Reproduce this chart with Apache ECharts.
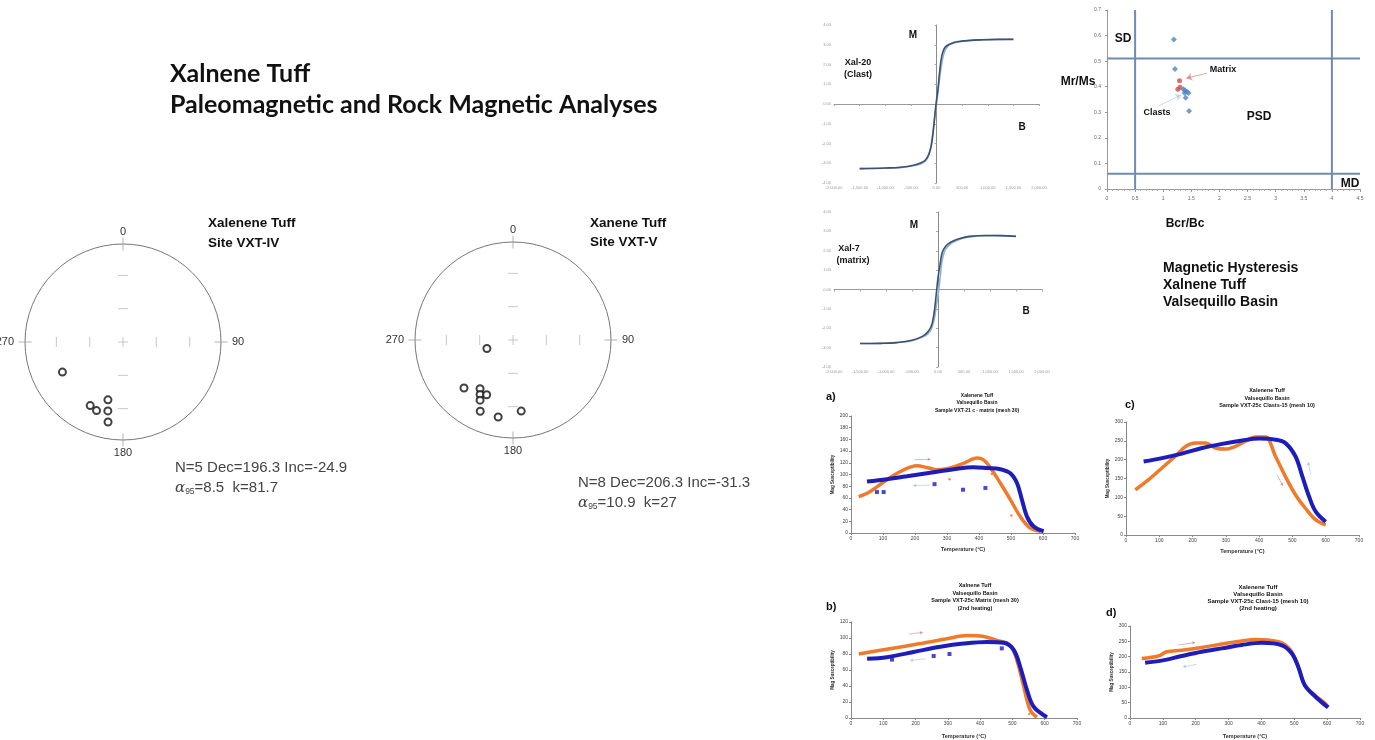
<!DOCTYPE html>
<html>
<head>
<meta charset="utf-8">
<script src="https://cdn.jsdelivr.net/npm/echarts@6/dist/echarts.min.js"></script>
<style>
html, body { margin: 0; padding: 0; background: #fff; }
#main { width: 1375px; height: 740px; }
</style>
</head>
<body>
<div id="main"></div>
<script>
// ---- stereonets: [projected radius (0..1), declination] ----
var vxt4Points = [[0.69, 243.6], [0.61, 194.6], [0.73, 207.3], [0.75, 201.1], [0.72, 192.4], [0.83, 190.6]];
var vxt5Points = [[0.28, 252], [0.70, 225.6], [0.60, 214.1], [0.65, 211.1], [0.62, 205.7], [0.70, 208.7], [0.80, 204.7], [0.80, 190.9], [0.73, 173.4]];
var netInnerH = [[0.34, 0], [0.68, 0], [0.34, 180], [0.68, 180], [0, 0]];
var netInnerV = [[0.34, 90], [0.68, 90], [0.34, 270], [0.68, 270], [0, 0]];
var netEdgeH = [[1, 90], [1, 270]];
var netEdgeV = [[1, 0], [1, 180]];

// ---- hysteresis loops [B, M] ----
var xal20Upper = [[1500, 3.27], [1200, 3.27], [900, 3.25], [600, 3.21], [400, 3.15], [300, 3.08], [200, 2.95], [150, 2.8], [100, 2.4], [60, 1.6], [30, 0.8], [0, 0.2], [-30, -0.5], [-60, -1.3], [-100, -2.1], [-150, -2.55], [-220, -2.85], [-300, -2.97], [-450, -3.1], [-700, -3.2], [-1000, -3.24], [-1500, -3.27]];
var xal20Lower = [[-1500, -3.27], [-1000, -3.25], [-700, -3.22], [-450, -3.13], [-300, -3.02], [-200, -2.85], [-140, -2.5], [-90, -1.8], [-50, -1.0], [-20, -0.4], [0, 0.0], [30, 0.6], [60, 1.3], [100, 2.0], [150, 2.6], [220, 2.92], [300, 3.05], [450, 3.15], [700, 3.22], [1000, 3.26], [1500, 3.28]];
var xal7Upper = [[1500, 2.74], [1200, 2.78], [900, 2.79], [600, 2.74], [400, 2.62], [250, 2.45], [150, 2.25], [80, 1.9], [40, 1.3], [0, 0.6], [-40, -0.4], [-80, -1.3], [-130, -1.9], [-200, -2.2], [-300, -2.42], [-500, -2.62], [-800, -2.74], [-1100, -2.78], [-1500, -2.79]];
var xal7Lower = [[-1500, -2.79], [-1100, -2.78], [-800, -2.74], [-500, -2.64], [-300, -2.45], [-200, -2.3], [-130, -2.05], [-70, -1.5], [-30, -0.8], [0, -0.3], [40, 0.6], [80, 1.5], [130, 2.0], [200, 2.25], [300, 2.45], [500, 2.66], [800, 2.76], [1100, 2.79], [1500, 2.75]];

// ---- Day plot [Bcr/Bc, Mr/Ms] ----
var clastPoints = [[1.19, 0.585], [1.21, 0.469], [1.36, 0.39], [1.39, 0.385], [1.42, 0.38], [1.45, 0.375], [1.40, 0.357], [1.46, 0.305], [1.38, 0.375]];
var matrixPoints = [[1.29, 0.423], [1.30, 0.398], [1.26, 0.39]];
var sdBcrBc = 0.5, mdBcrBc = 4;
var sdMrMs = 0.51, mdMrMs = 0.06;
var matrixArrow = [[1.78, 0.453], [1.41, 0.433]];
var clastArrow = [[0.92, 0.325], [1.32, 0.368]];

// ---- thermomagnetic curves [T, susceptibility] ----
var aHeat = [[24, 62], [60, 71], [112, 91], [154, 105], [206, 115], [237, 112], [269, 108], [310, 111], [352, 119], [394, 128], [414, 125], [435, 112], [467, 85], [498, 57], [529, 28], [560, 8.5], [592, 3]];
var aCool = [[50, 88], [112, 92], [175, 97], [248, 103], [321, 109], [383, 112.5], [425, 111], [467, 109], [498, 102], [519, 85], [534, 57], [550, 28], [571, 11], [602, 3]];
var aCoolDots = [[81, 70], [102, 70], [261, 83.5], [350, 74], [420, 77]];
var aHeatDots = [[308, 92], [440, 101], [501, 30]];
var cHeat = [[28, 120], [68, 147], [108, 178], [148, 209], [179, 235], [209, 244], [239, 244], [269, 231], [299, 228], [329, 235], [359, 249], [389, 260], [419, 260], [449, 209], [479, 155], [509, 107], [539, 71], [570, 40], [600, 27]];
var cCool = [[53, 195], [108, 204], [168, 216], [229, 231], [289, 242], [349, 251], [399, 256], [449, 253], [479, 244], [509, 209], [530, 155], [550, 102], [570, 62], [600, 35]];
var bHeat = [[24, 80], [111, 86], [215, 93], [297, 99], [359, 103], [411, 102], [452, 97], [493, 91], [514, 72], [535, 39], [555, 10], [576, 1]];
var bCool = [[50, 74], [111, 76], [194, 82.5], [277, 89], [349, 93], [421, 95], [473, 94], [504, 85], [524, 64], [545, 35], [566, 14], [607, 1]];
var bCoolDots = [[127, 73], [256, 77.5], [305, 80], [467, 87]];
var bHeatDots = [[552, 5]];
var dHeat = [[36, 194], [86, 202], [112, 216], [157, 221], [218, 230], [279, 241], [340, 251], [380, 256], [421, 254], [462, 245], [492, 216], [512, 167], [532, 107], [563, 74], [593, 49], [603, 36]];
var dCool = [[46, 180], [96, 187], [157, 202], [218, 216], [279, 227], [340, 238], [401, 245], [462, 237], [492, 211], [512, 167], [532, 107], [563, 71], [603, 34]];
var heatArrows = { a: [[200, 126], [248, 126]], b: [[180, 105], [222, 107]], c: [[454, 160], [471, 131]], d: [[147, 238], [198, 246]] };
var coolArrows = { a: [[248, 82], [195, 81]], b: [[233, 74], [184, 72]], c: [[555, 160], [547, 193]], d: [[203, 175], [162, 167]] };

var ORANGE = '#ee7a2a', BLUE = '#1d1dba', LINEBLUE = '#6f8cae';
var chart = echarts.init(document.getElementById('main'));

function txt(x, y, s, size, opts) {
  opts = opts || {};
  return {
    type: 'text', x: x, y: y, silent: true,
    style: {
      text: s, fontSize: size, fontWeight: opts.bold ? 'bold' : 'normal',
      fontFamily: opts.font || 'Liberation Sans', fill: opts.color || '#111',
      align: opts.align || 'left', verticalAlign: 'middle',
      lineHeight: opts.lh, rich: opts.rich
    }
  };
}

// grids: 0 Xal-20, 1 Xal-7, 2 Day plot, 3 a, 4 c, 5 b, 6 d
var grids = [
  { left: 834, top: 25, width: 205, height: 158 },
  { left: 834, top: 212, width: 208, height: 155 },
  { left: 1107, top: 10, width: 253, height: 179 },
  { left: 851, top: 416, width: 224, height: 117 },
  { left: 1126, top: 422, width: 233, height: 113 },
  { left: 851, top: 622, width: 226, height: 96 },
  { left: 1130, top: 626, width: 230, height: 92 }
];

var xAxes = [], yAxes = [];
[0, 1].forEach(function (g) {
  xAxes.push({
    gridIndex: g, type: 'value', min: -2000, max: 2000, interval: 500,
    axisLine: { onZero: true, lineStyle: { color: '#9a9a9a', width: 1 } },
    axisTick: { show: true, length: 2, lineStyle: { color: '#aaa' } },
    axisLabel: { fontSize: 4, color: '#999', margin: 3, formatter: function (v) {
      return (v < 0 ? '-' : '') + Math.abs(v).toLocaleString('en-US', { minimumFractionDigits: 2 });
    } },
    splitLine: { show: false }
  });
  yAxes.push({
    gridIndex: g, type: 'value', min: -4, max: 4, interval: 1,
    axisLine: { show: true, onZero: true, lineStyle: { color: '#8a8a8a', width: 1 } },
    axisTick: { show: true, length: 2, lineStyle: { color: '#aaa' } },
    axisLabel: { fontSize: 4, color: '#999', margin: 3, formatter: function (v) { return v.toFixed(2); } },
    splitLine: { show: false }
  });
});
xAxes.push({
  gridIndex: 2, type: 'value', min: 0, max: 4.5, interval: 0.5,
  axisLine: { onZero: false, lineStyle: { color: '#999' } },
  axisTick: { show: true, length: 3, lineStyle: { color: '#999' } },
  minorTick: { show: true, splitNumber: 5, length: 2, lineStyle: { color: '#aaa' } },
  axisLabel: { fontSize: 5, color: '#666', margin: 7 },
  splitLine: { show: false }
});
yAxes.push({
  gridIndex: 2, type: 'value', min: 0, max: 0.7, interval: 0.1,
  axisLine: { show: true, lineStyle: { color: '#999' } },
  axisTick: { show: true, length: 2, lineStyle: { color: '#999' } },
  axisLabel: { fontSize: 5, color: '#666', margin: 6 },
  splitLine: { show: false }
});
var thermoY = [{ max: 200, interval: 20, gap: 13 }, { max: 300, interval: 50, gap: 13 }, { max: 120, interval: 20, gap: 15 }, { max: 300, interval: 50, gap: 15 }];
thermoY.forEach(function (t, i) {
  var g = 3 + i;
  xAxes.push({
    gridIndex: g, type: 'value', min: 0, max: 700, interval: 100,
    name: 'Temperature (\u00b0C)', nameLocation: 'middle', nameGap: t.gap,
    nameTextStyle: { fontSize: 5.5, fontWeight: 'bold', color: '#333' },
    axisLine: { onZero: false, lineStyle: { color: '#888' } },
    axisTick: { show: true, length: 2, lineStyle: { color: '#888' } },
    axisLabel: { fontSize: 5, color: '#444', margin: 3 },
    splitLine: { show: false }
  });
  yAxes.push({
    gridIndex: g, type: 'value', min: 0, max: t.max, interval: t.interval,
    name: 'Mag Susceptibility', nameLocation: 'middle', nameGap: 14,
    nameTextStyle: { fontSize: 4.5, fontWeight: 'bold', color: '#333' },
    axisLine: { show: true, lineStyle: { color: '#888' } },
    axisTick: { show: true, length: 2, lineStyle: { color: '#888' } },
    axisLabel: { fontSize: 5, color: '#444', margin: 3 },
    splitLine: { show: false }
  });
});

var series = [];

// stereonets
[[vxt4Points, 0], [vxt5Points, 1]].forEach(function (p) {
  var pi = p[1];
  series.push({ type: 'scatter', coordinateSystem: 'polar', polarIndex: pi, silent: true, symbol: 'rect', symbolSize: [10, 1], itemStyle: { color: '#b3bcc6' }, data: netInnerH });
  series.push({ type: 'scatter', coordinateSystem: 'polar', polarIndex: pi, silent: true, symbol: 'rect', symbolSize: [1, 10], itemStyle: { color: '#b3bcc6' }, data: netInnerV });
  series.push({ type: 'scatter', coordinateSystem: 'polar', polarIndex: pi, silent: true, symbol: 'rect', symbolSize: [13, 1], itemStyle: { color: '#98a3ad' }, data: netEdgeH });
  series.push({ type: 'scatter', coordinateSystem: 'polar', polarIndex: pi, silent: true, symbol: 'rect', symbolSize: [1, 13], itemStyle: { color: '#98a3ad' }, data: netEdgeV });
  series.push({ type: 'scatter', coordinateSystem: 'polar', polarIndex: pi, silent: true, symbol: 'circle', symbolSize: 7, z: 5,
    itemStyle: { color: '#fff', borderColor: '#111', borderWidth: 2 }, data: p[0] });
});

// hysteresis
[[xal20Upper, xal20Lower, 0], [xal7Upper, xal7Lower, 1]].forEach(function (h) {
  series.push({ type: 'line', xAxisIndex: h[2], yAxisIndex: h[2], data: h[1], smooth: 0.4, showSymbol: false, silent: true,
    lineStyle: { color: '#8fb2d3', width: 1.6 } });
  series.push({ type: 'line', xAxisIndex: h[2], yAxisIndex: h[2], data: h[0], smooth: 0.4, showSymbol: false, silent: true,
    lineStyle: { color: '#3d5170', width: 1.6 } });
});

// Day plot boundaries
[[[sdBcrBc, 0], [sdBcrBc, 0.7]], [[mdBcrBc, 0], [mdBcrBc, 0.7]], [[0, sdMrMs], [4.5, sdMrMs]], [[0, mdMrMs], [4.5, mdMrMs]]].forEach(function (d) {
  series.push({ type: 'line', xAxisIndex: 2, yAxisIndex: 2, data: d, showSymbol: false, silent: true, lineStyle: { color: LINEBLUE, width: 2 } });
});
series.push({ type: 'scatter', xAxisIndex: 2, yAxisIndex: 2, data: clastPoints, symbol: 'diamond', symbolSize: 6, silent: true, itemStyle: { color: '#4f86c2' } });
series.push({ type: 'scatter', xAxisIndex: 2, yAxisIndex: 2, data: matrixPoints, symbol: 'circle', symbolSize: 5, silent: true, itemStyle: { color: '#c8504a' } });
series.push({ type: 'lines', coordinateSystem: 'cartesian2d', xAxisIndex: 2, yAxisIndex: 2, silent: true, symbol: ['none', 'arrow'], symbolSize: 6,
  lineStyle: { color: '#c0504d', width: 1 }, data: [{ coords: matrixArrow }] });
series.push({ type: 'lines', coordinateSystem: 'cartesian2d', xAxisIndex: 2, yAxisIndex: 2, silent: true, symbol: ['none', 'arrow'], symbolSize: 6,
  lineStyle: { color: '#9bb4cc', width: 1 }, data: [{ coords: clastArrow }] });

// thermomagnetic panels
var panels = [
  { g: 3, heat: aHeat, cool: aCool, hd: aHeatDots, cd: aCoolDots, k: 'a' },
  { g: 4, heat: cHeat, cool: cCool, hd: [], cd: [], k: 'c' },
  { g: 5, heat: bHeat, cool: bCool, hd: bHeatDots, cd: bCoolDots, k: 'b' },
  { g: 6, heat: dHeat, cool: dCool, hd: [], cd: [], k: 'd' }
];
panels.forEach(function (p) {
  series.push({ type: 'line', xAxisIndex: p.g, yAxisIndex: p.g, data: p.heat, smooth: 0.35, showSymbol: false, silent: true, lineStyle: { color: ORANGE, width: 3.5 } });
  series.push({ type: 'line', xAxisIndex: p.g, yAxisIndex: p.g, data: p.cool, smooth: 0.35, showSymbol: false, silent: true, lineStyle: { color: BLUE, width: 4 } });
  series.push({ type: 'scatter', xAxisIndex: p.g, yAxisIndex: p.g, data: p.cd, symbol: 'rect', symbolSize: 4, silent: true, itemStyle: { color: BLUE } });
  series.push({ type: 'scatter', xAxisIndex: p.g, yAxisIndex: p.g, data: p.hd, symbol: 'circle', symbolSize: 2.5, silent: true, itemStyle: { color: ORANGE } });
  series.push({ type: 'lines', coordinateSystem: 'cartesian2d', xAxisIndex: p.g, yAxisIndex: p.g, silent: true, symbol: ['none', 'arrow'], symbolSize: 3,
    lineStyle: { color: '#c0504d', width: 0.8 }, data: [{ coords: heatArrows[p.k] }] });
  series.push({ type: 'lines', coordinateSystem: 'cartesian2d', xAxisIndex: p.g, yAxisIndex: p.g, silent: true, symbol: ['none', 'arrow'], symbolSize: 3,
    lineStyle: { color: '#7f9fc0', width: 0.8 }, data: [{ coords: coolArrows[p.k] }] });
});

var alphaRich = {
  a: { fontFamily: 'DejaVu Serif', fontStyle: 'italic', fontSize: 15, fill: '#444' },
  s: { fontSize: 8.5, fill: '#444', verticalAlign: 'bottom', padding: [7, 0, 0, 0] },
  n: { fontSize: 15, fill: '#444', fontFamily: 'Liberation Sans' }
};

var graphics = [
  txt(170, 74, 'Xalnene Tuff', 25, { bold: true, font: 'Lato' }),
  txt(170, 105, 'Paleomagnetic and Rock Magnetic Analyses', 25, { bold: true, font: 'Lato' }),
  txt(208, 223, 'Xalenene Tuff', 13.5, { bold: true }),
  txt(208, 243, 'Site VXT-IV', 13.5, { bold: true }),
  txt(590, 223, 'Xanene Tuff', 13.5, { bold: true }),
  txt(590, 242, 'Site VXT-V', 13.5, { bold: true }),
  txt(175, 468, 'N=5 Dec=196.3 Inc=-24.9', 15, { color: '#444' }),
  txt(175, 488, '{a|\u03b1}{s|95}{n|=8.5  k=81.7}', 15, { rich: alphaRich, color: '#444' }),
  txt(578, 483, 'N=8 Dec=206.3 Inc=-31.3', 15, { color: '#444' }),
  txt(578, 503, '{a|\u03b1}{s|95}{n|=10.9  k=27}', 15, { rich: alphaRich, color: '#444' }),
  // hysteresis labels
  txt(913, 35, 'M', 10, { bold: true, align: 'center' }),
  txt(1022, 127, 'B', 10, { bold: true, align: 'center' }),
  txt(858, 63, 'Xal-20', 9, { bold: true, align: 'center' }),
  txt(858, 75, '(Clast)', 9, { bold: true, align: 'center' }),
  txt(914, 225, 'M', 10, { bold: true, align: 'center' }),
  txt(1026, 311, 'B', 10, { bold: true, align: 'center' }),
  txt(849, 249, 'Xal-7', 9, { bold: true, align: 'center' }),
  txt(853, 261, '(matrix)', 9, { bold: true, align: 'center' }),
  // Day plot labels
  txt(1123, 39, 'SD', 12, { bold: true, align: 'center' }),
  txt(1078, 82, 'Mr/Ms', 12, { bold: true, align: 'center' }),
  txt(1223, 70, 'Matrix', 9, { bold: true, align: 'center' }),
  txt(1157, 113, 'Clasts', 9, { bold: true, align: 'center' }),
  txt(1259, 117, 'PSD', 12, { bold: true, align: 'center' }),
  txt(1350, 184, 'MD', 12, { bold: true, align: 'center' }),
  txt(1185, 224, 'Bcr/Bc', 12, { bold: true, align: 'center' }),
  txt(1163, 268, 'Magnetic Hysteresis', 14, { bold: true }),
  txt(1163, 285, 'Xalnene Tuff', 14, { bold: true }),
  txt(1163, 302, 'Valsequillo Basin', 14, { bold: true }),
  // thermomagnetic titles
  txt(826, 397, 'a)', 11, { bold: true }),
  txt(977, 403, 'Xalenene Tuff\nValsequillo Basin\nSample VXT-21 c - matrix (mesh 30)', 5, { bold: true, align: 'center', lh: 7.5 }),
  txt(1125, 405, 'c)', 11, { bold: true }),
  txt(1267, 398, 'Xalenene Tuff\nValsequillo Basin\nSample VXT-25c Clasts-15 (mesh 10)', 5.5, { bold: true, align: 'center', lh: 7.3 }),
  txt(826, 607, 'b)', 11, { bold: true }),
  txt(975, 597, 'Xalnene Tuff\nValsequillo Basin\nSample VXT-25c Matrix (mesh 30)\n(2nd heating)', 5.5, { bold: true, align: 'center', lh: 7.5 }),
  txt(1106, 613, 'd)', 11, { bold: true }),
  txt(1258, 598, 'Xalenene Tuff\nValsequillo Basin\nSample VXT-25c Clast-15 (mesh 10)\n(2nd heating)', 6, { bold: true, align: 'center', lh: 7 })
];

chart.setOption({
  backgroundColor: '#fff',
  animation: false,
  polar: [{ center: [123, 342], radius: 98 }, { center: [513, 340], radius: 98 }],
  angleAxis: [0, 1].map(function (i) {
    return {
      polarIndex: i, type: 'value', min: 0, max: 360, interval: 90, startAngle: 90, clockwise: true,
      axisLine: { show: true, lineStyle: { color: '#777', width: 1 } },
      axisTick: { show: false }, splitLine: { show: false }, splitArea: { show: false },
      axisLabel: {
        margin: 7, fontSize: 11, color: '#333', fontFamily: 'Liberation Sans',
        formatter: function (v) { return v === 360 ? '' : (v === 90 || v === 270 ? '{h|' + v + '}' : String(v)); },
        rich: { h: { fontSize: 11, color: '#333', padding: [0, 4, 0, 4] } }
      }
    };
  }),
  radiusAxis: [0, 1].map(function (i) {
    return { polarIndex: i, type: 'value', min: 0, max: 1, axisLine: { show: false }, axisTick: { show: false },
      axisLabel: { show: false }, splitLine: { show: false }, splitArea: { show: false } };
  }),
  grid: grids,
  xAxis: xAxes,
  yAxis: yAxes,
  series: series,
  graphic: graphics
});
</script>
</body>
</html>
